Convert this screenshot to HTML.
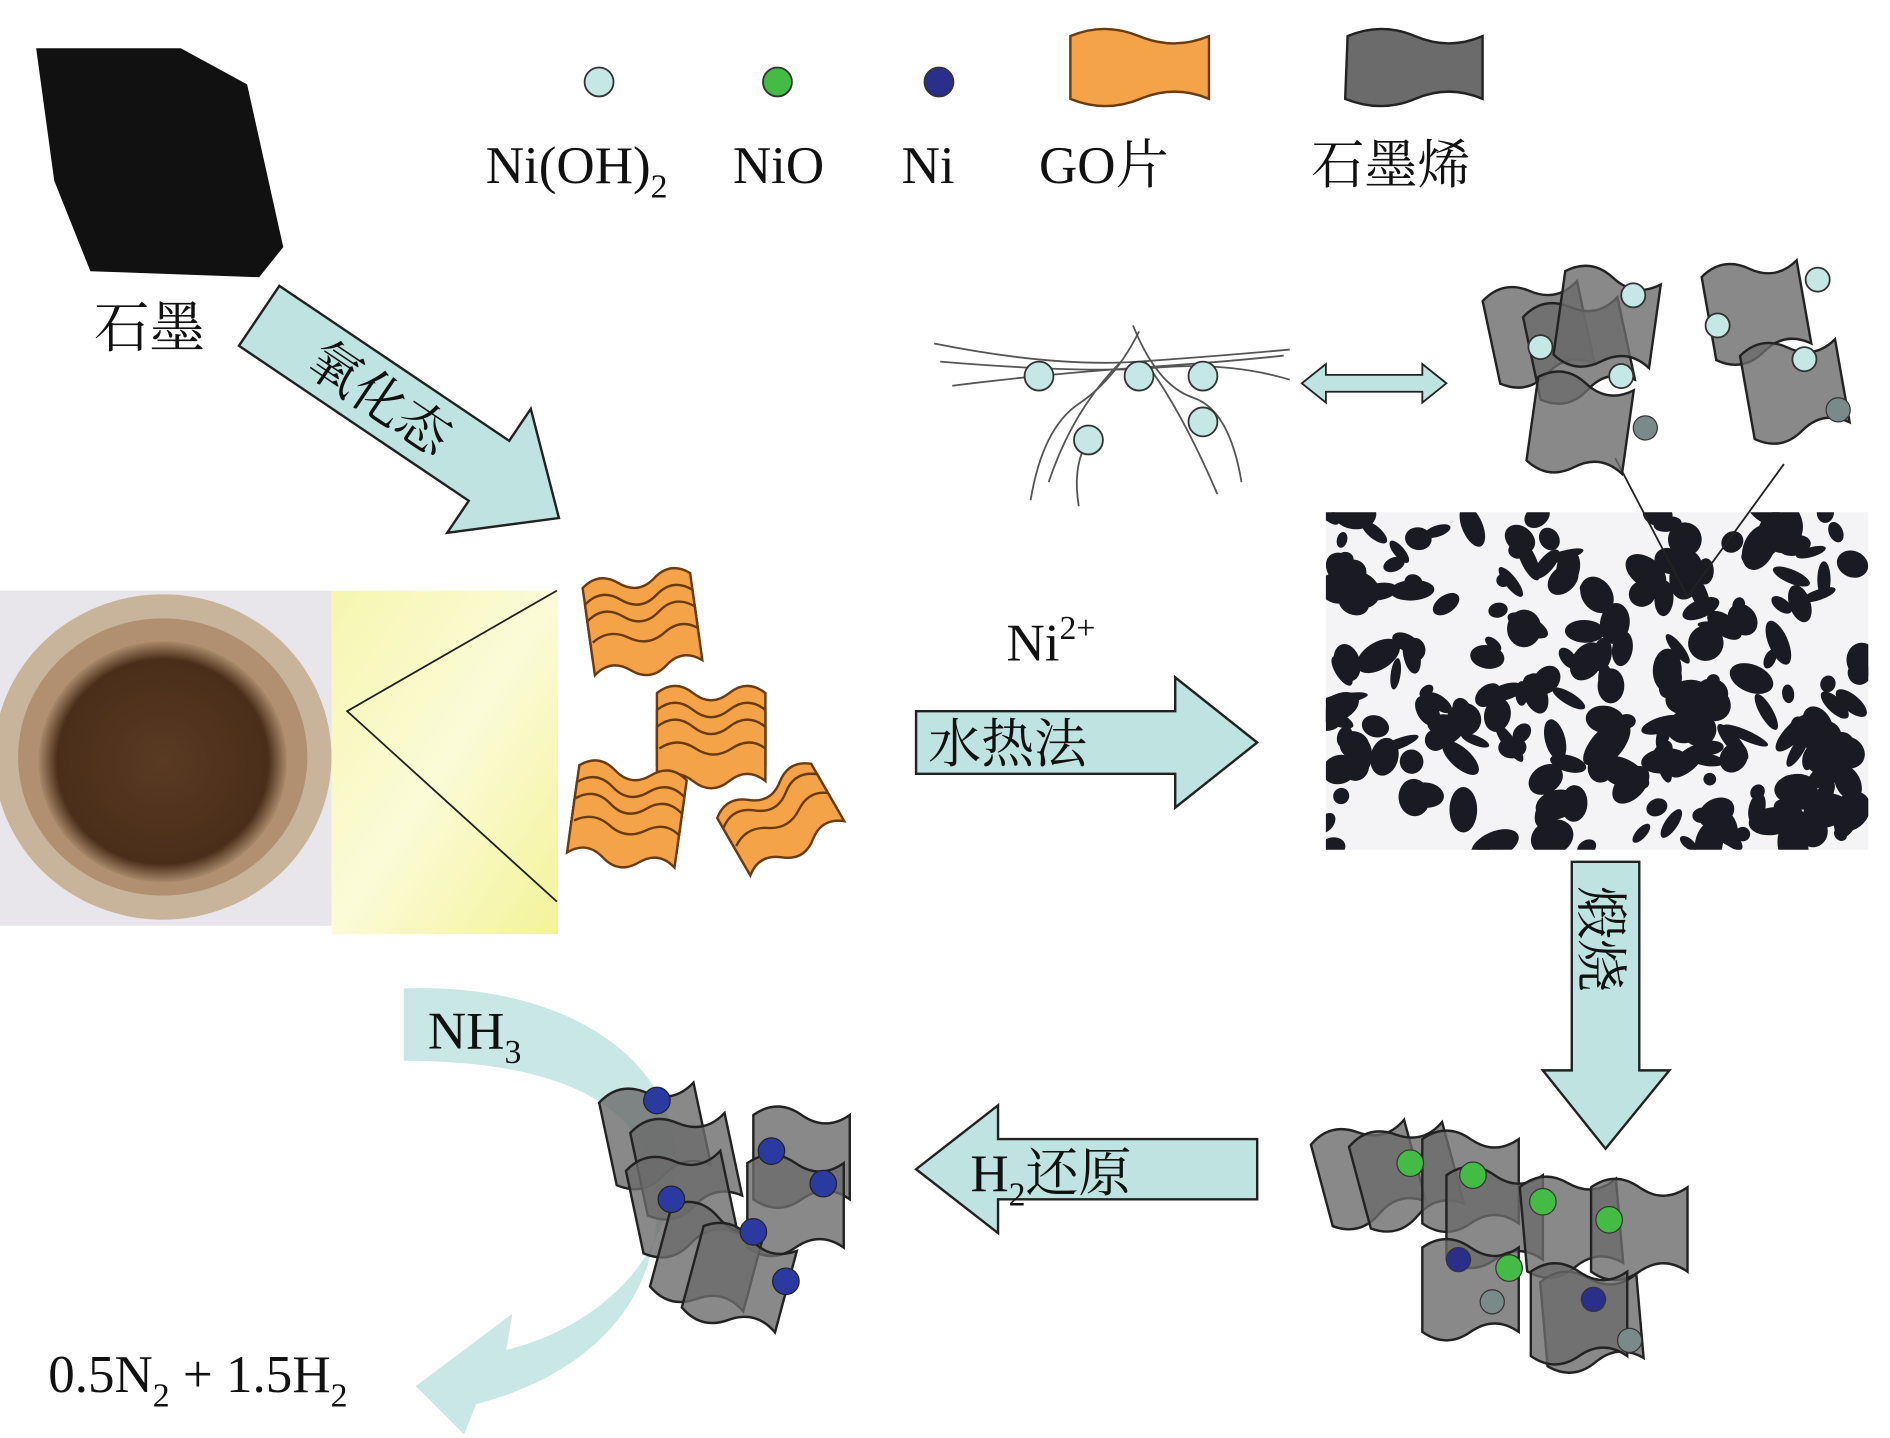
<!DOCTYPE html>
<html><head><meta charset="utf-8"><style>
html,body{margin:0;padding:0;background:#fff}
svg{display:block}
text{font-family:"Liberation Serif","Noto Serif CJK SC","Noto Sans CJK SC",serif;fill:#111}
</style></head><body>
<svg id="s" width="1890" height="1438" viewBox="0 0 1568 1193" xmlns="http://www.w3.org/2000/svg">
<defs>
<linearGradient id="yel" x1="0" y1="0" x2="1" y2="1">
<stop offset="0" stop-color="#f6f6b0"/><stop offset="0.5" stop-color="#fbfbd8"/><stop offset="1" stop-color="#f3f39a"/></linearGradient>
<radialGradient id="cup" cx="0.5" cy="0.5" r="0.5"><stop offset="0" stop-color="#5a3a22"/><stop offset="0.85" stop-color="#4a2e1a"/><stop offset="1" stop-color="#a88a6a"/></radialGradient>
<clipPath id="mc"><rect x="1100" y="425" width="450" height="280"/></clipPath>
<g id="go"><path d="M0,10 q15,-12 30,0 t30,0 t30,0 l0,45 q-15,-12 -30,0 t-30,0 t-30,0z" fill="#f5a348" stroke="#6a3a10" stroke-width="2"/><path d="M2,28 q15,-10 30,0 t30,0 t28,0" fill="none" stroke="#6a3a10" stroke-width="2"/></g>
<g id="gr"><path d="M0,10 q20,-14 40,0 t40,0 l0,70 q-20,-14 -40,0 t-40,0z" fill="#6b6b6b" fill-opacity="0.8" stroke="#222" stroke-width="2"/></g>
</defs>
<!-- graphite -->
<polygon points="30,40 150,40 205,70 235,205 215,230 75,225 45,150" fill="#111"/>
<text x="78" y="288" font-size="46">石墨</text>
<!-- legend -->
<circle cx="497" cy="68" r="12" fill="#c5e8e4" stroke="#333" stroke-width="1.5"/>
<circle cx="645" cy="68" r="12" fill="#44bb44" stroke="#333" stroke-width="1.5"/>
<circle cx="779" cy="68" r="12" fill="#2a2f8a" stroke="#333" stroke-width="1.5"/>
<path d="M888,30 q28,-12 57,0 t58,0 l0,52 q-28,-12 -57,0 t-58,0z" fill="#f5a348" stroke="#6a3a10" stroke-width="2"/>
<path d="M1118,30 q28,-12 56,0 t56,0 l0,52 q-28,-12 -56,0 t-58,0z" fill="#6b6b6b" stroke="#222" stroke-width="2"/>
<text x="403" y="152" font-size="44">Ni(OH)<tspan font-size="28" dy="12">2</tspan></text>
<text x="608" y="152" font-size="44">NiO</text>
<text x="748" y="152" font-size="44">Ni</text>
<text x="862" y="152" font-size="44">GO片</text>
<text x="1088" y="152" font-size="44">石墨烯</text>
<!-- oxidation arrow -->
<g transform="translate(215,262) rotate(34)">
<polygon points="0,-30 230,-30 230,-62 300,0 230,62 230,30 0,30" fill="#bfe3e0" stroke="#222" stroke-width="2"/>
<text x="55" y="16" font-size="44">氧化态</text>
</g>
<!-- photo -->
<rect x="275" y="490" width="188" height="285" fill="url(#yel)"/>
<rect x="0" y="490" width="275" height="278" fill="#e8e6ea"/>
<ellipse cx="135" cy="628" rx="140" ry="135" fill="#c8b49a"/>
<ellipse cx="135" cy="628" rx="120" ry="115" fill="#b09070"/>
<ellipse cx="135" cy="632" rx="103" ry="100" fill="url(#cup)"/>
<polyline points="462,490 288,590 462,748" fill="none" stroke="#222" stroke-width="1.5"/>
<!-- GO sheets -->
<g transform="translate(482,478) rotate(-8)"><use href="#go"/><use href="#go" y="14"/><use href="#go" y="28"/></g>
<g transform="translate(545,565)"><use href="#go"/><use href="#go" y="14"/><use href="#go" y="28"/></g>
<g transform="translate(482,625) rotate(8)"><use href="#go"/><use href="#go" y="14"/><use href="#go" y="28"/></g>
<g transform="translate(590,670) rotate(-30)"><use href="#go"/><use href="#go" y="10"/></g>
<!-- hydrothermal arrow -->
<text x="835" y="548" font-size="44">Ni<tspan font-size="28" dy="-18">2+</tspan></text>
<polygon points="760,590 975,590 975,562 1043,616 975,670 975,642 760,642" fill="#bfe3e0" stroke="#222" stroke-width="2"/>
<text x="770" y="632" font-size="44">水热法</text>
<!-- micrograph -->
<rect x="1100" y="425" width="450" height="280" fill="#f4f4f6"/>
<g id="blobs" clip-path="url(#mc)"></g>
<polyline points="1340,380 1400,495 1480,385" fill="none" stroke="#222" stroke-width="1.5"/>
<!-- network -->
<g fill="none" stroke="#555" stroke-width="1.5">
<path d="M775,285 q100,20 170,15 t125,-10"/>
<path d="M780,300 q120,10 180,5 t110,10"/>
<path d="M790,320 q80,-10 155,-15 t120,-10"/>
<path d="M945,275 q-20,40 -50,60 t-40,80"/>
<path d="M940,270 q20,50 50,60 t40,70"/>
<path d="M930,300 q-40,40 -60,100"/>
<path d="M950,300 q30,40 60,110"/>
<path d="M900,370 q-10,20 -5,50"/>
</g>
<g fill="#c5e8e4" stroke="#333" stroke-width="1.5">
<circle cx="862" cy="312" r="12"/><circle cx="945" cy="312" r="12"/><circle cx="998" cy="312" r="12"/><circle cx="903" cy="365" r="12"/><circle cx="998" cy="350" r="12"/>
</g>
<!-- double arrow -->
<polygon points="1080,318 1100,302 1100,311 1180,311 1180,302 1200,318 1180,334 1180,325 1100,325 1100,334" fill="#bfe3e0" stroke="#222" stroke-width="1.5"/>
<!-- graphene stacks top right -->
<g transform="translate(1228,240) rotate(-12)"><use href="#gr"/><use href="#gr" x="30" y="20"/></g>
<g transform="translate(1300,215) rotate(8)"><use href="#gr"/><use href="#gr" x="-10" y="90"/></g>
<g transform="translate(1410,220) rotate(-10)"><use href="#gr"/><use href="#gr" x="20" y="70"/></g>
<g fill="#c5e8e4" stroke="#333" stroke-width="1.5">
<circle cx="1278" cy="288" r="10"/><circle cx="1355" cy="245" r="10"/><circle cx="1345" cy="312" r="10"/><circle cx="1425" cy="270" r="10"/><circle cx="1508" cy="232" r="10"/><circle cx="1497" cy="298" r="10"/>
</g>
<g fill="#7a8a88" stroke="#333" stroke-width="1"><circle cx="1365" cy="355" r="10"/><circle cx="1525" cy="340" r="10"/></g>
<!-- calcination arrow -->
<polygon points="1304,715 1360,715 1360,888 1385,888 1332,953 1280,888 1304,888" fill="#bfe3e0" stroke="#222" stroke-width="2"/>
<text font-size="44" transform="translate(1313,735) rotate(90)">煅烧</text>
<!-- bottom right cluster -->
<g transform="translate(1085,940) rotate(-15)"><use href="#gr"/><use href="#gr" x="30" y="10"/></g>
<g transform="translate(1180,935)"><use href="#gr"/><use href="#gr" x="20" y="30"/><use href="#gr" x="0" y="90"/></g>
<g transform="translate(1260,975) rotate(-5)"><use href="#gr"/><use href="#gr" x="10" y="80"/></g>
<g transform="translate(1300,975)"><use href="#gr" x="20"/><use href="#gr" x="-30" y="70"/></g>
<g fill="#44bb44" stroke="#333" stroke-width="1"><circle cx="1170" cy="965" r="11"/><circle cx="1222" cy="975" r="11"/><circle cx="1280" cy="997" r="11"/><circle cx="1335" cy="1012" r="11"/><circle cx="1252" cy="1052" r="11"/></g>
<g fill="#2a2f8a" stroke="#333" stroke-width="1"><circle cx="1210" cy="1045" r="10"/><circle cx="1322" cy="1078" r="10"/></g>
<g fill="#7a8a88" stroke="#333" stroke-width="1"><circle cx="1238" cy="1080" r="10"/><circle cx="1352" cy="1112" r="10"/></g>
<!-- H2 arrow -->
<polygon points="1043,945 828,945 828,917 760,970 828,1023 828,995 1043,995" fill="#bfe3e0" stroke="#222" stroke-width="2"/>
<text x="805" y="988" font-size="44">H<tspan font-size="28" dy="12">2</tspan><tspan dy="-12">还原</tspan></text>
<!-- NH3 curved arrow -->
<path d="M335,820 C470,815 560,880 560,960 C560,1040 500,1100 420,1120 L425,1090 L345,1150 L385,1190 L395,1165 C490,1140 545,1080 545,1000 C545,920 470,880 335,880 Z" fill="#bfe3e0" fill-opacity="0.85"/>
<text x="355" y="870" font-size="44">NH<tspan font-size="28" dy="12">3</tspan></text>
<!-- bottom left cluster -->
<g transform="translate(495,905) rotate(-12)"><use href="#gr"/><use href="#gr" x="20" y="30"/><use href="#gr" x="10" y="60"/></g>
<g transform="translate(625,915)"><use href="#gr"/><use href="#gr" x="-5" y="40"/></g>
<g transform="translate(560,990) rotate(15)"><use href="#gr"/><use href="#gr" x="30" y="10"/></g>
<g fill="#2a3aa0" stroke="#222" stroke-width="1"><circle cx="545" cy="913" r="11"/><circle cx="640" cy="955" r="11"/><circle cx="683" cy="982" r="11"/><circle cx="557" cy="995" r="11"/><circle cx="625" cy="1022" r="11"/><circle cx="652" cy="1063" r="11"/></g>
<text x="40" y="1155" font-size="44">0.5N<tspan font-size="28" dy="12">2</tspan><tspan dy="-12"> + 1.5H</tspan><tspan font-size="28" dy="12">2</tspan></text>
</svg>
<script>
(function(){var s=7,r=function(){s=(s*16807)%2147483647;return s/2147483647;};
var g=document.getElementById('blobs'),h='';
for(var i=0;i<220;i++){var x=1100+r()*450,y=425+r()*280,rx=5+r()*16,ry=4+r()*11;
h+='<ellipse cx="'+x.toFixed(1)+'" cy="'+y.toFixed(1)+'" rx="'+rx.toFixed(1)+'" ry="'+ry.toFixed(1)+'" fill="#1a1a22" transform="rotate('+(r()*180).toFixed(0)+' '+x.toFixed(1)+' '+y.toFixed(1)+')"/>';}
g.innerHTML=h;})();
</script>
</body></html>
